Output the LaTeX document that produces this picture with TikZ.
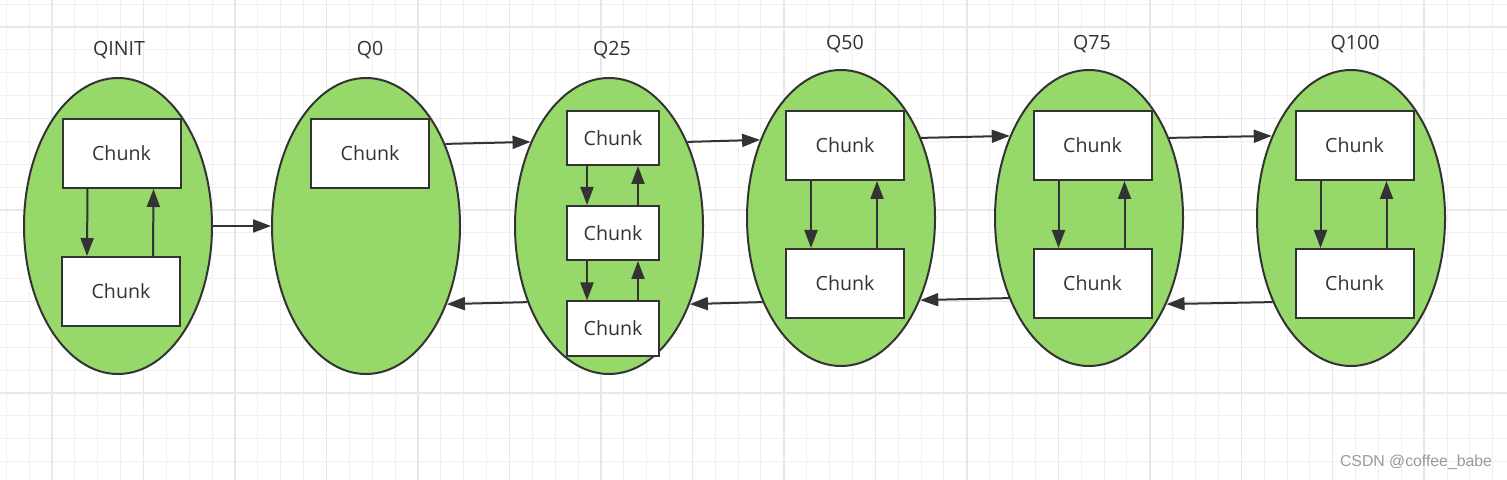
\documentclass[tikz,border=0pt]{standalone}
\usepackage{fontspec}
\setmainfont{Open Sans}
\newfontfamily\wmfont{Liberation Sans}
\usetikzlibrary{shapes.geometric,arrows.meta,calc}
\definecolor{lc}{HTML}{333333}
\definecolor{gfill}{HTML}{97D86A}
\definecolor{gminor}{HTML}{F0F0F0}
\definecolor{gmajor}{HTML}{E8E8E8}
\definecolor{wm}{HTML}{999999}
\begin{document}
\begin{tikzpicture}[x=0.5pt,y=-0.5pt,
  queue/.style={ellipse,draw=lc,line width=1pt,fill=gfill,minimum width=94pt,minimum height=148pt,inner sep=0pt},
  chunk/.style={rectangle,draw=lc,line width=1pt,fill=white,minimum width=59pt,minimum height=34.5pt,inner sep=0pt,font=\fontsize{9.8}{11}\selectfont,text=lc},
  smallchunk/.style={chunk,minimum width=46pt,minimum height=27pt},
  qlabel/.style={font=\fontsize{9.8}{11}\selectfont,text=lc},
  arr/.style={draw=lc,line width=1pt,-{Triangle[length=9pt,width=6.5pt]}},
  gridminor/.style={draw=gminor,line width=0.5pt},
  gridmajor/.style={draw=gmajor,line width=0.75pt}
]
\useasboundingbox (0,0) rectangle (1507,480);
\fill[white] (0,0) rectangle (1507,480);
\begin{scope}
\clip (0,0) rectangle (1507,480);
\foreach \i in {-2,...,63}{\draw[gridminor] ({52+\i*22.87},0) -- ({52+\i*22.87},480);}
\foreach \j in {-1,...,19}{\draw[gridminor] (0,{27+\j*22.87}) -- (1507,{27+\j*22.87});}
\foreach \i in {0,4,...,60}{\draw[gridmajor] ({52+\i*22.87},0) -- ({52+\i*22.87},480);}
\foreach \j in {0,4,...,16}{\draw[gridmajor] (0,{27+\j*22.87}) -- (1507,{27+\j*22.87});}
\end{scope}

% queues
\node[queue] (qinit) at (118,226) {};
\node[queue] (q0) at (366,226) {};
\node[queue] (q25) at (609,226) {};
\node[queue] (q50) at (841,218) {};
\node[queue] (q75) at (1089,218) {};
\node[queue] (q100) at (1351,218) {};

% labels
\node[qlabel] (lqinit) at (119,50) {QINIT};
\node[qlabel] (lq0) at (370,50) {Q0};
\node[qlabel] (lq25) at (612,50) {Q25};
\node[qlabel] (lq50) at (845,44) {Q50};
\node[qlabel] (lq75) at (1092,44) {Q75};
\node[qlabel] (lq100) at (1355,44) {Q100};

% chunks
\node[chunk] (i1) at (121.5,153.5) {Chunk};
\node[chunk] (i2) at (121,291.5) {Chunk};
\node[chunk] (z1) at (370,153.5) {Chunk};
\node[smallchunk] (a1) at (613,138) {Chunk};
\node[smallchunk] (a2) at (613,233) {Chunk};
\node[smallchunk] (a3) at (613,328.5) {Chunk};
\node[chunk] (b1) at (845,145.5) {Chunk};
\node[chunk] (b2) at (845,283.5) {Chunk};
\node[chunk] (c1) at (1092.5,145.5) {Chunk};
\node[chunk] (c2) at (1092.5,283.5) {Chunk};
\node[chunk] (d1) at (1354.5,145.5) {Chunk};
\node[chunk] (d2) at (1354.5,283.5) {Chunk};

% inner arrows
\draw[arr] ([xshift=-17pt]i1.south) -- ([xshift=-17pt]i2.north);
\draw[arr] ([xshift=16pt]i2.north) -- ([xshift=16pt]i1.south);
\draw[arr] ([xshift=-13pt]a1.south) -- ([xshift=-13pt]a2.north);
\draw[arr] ([xshift=12.5pt]a2.north) -- ([xshift=12.5pt]a1.south);
\draw[arr] ([xshift=-13pt]a2.south) -- ([xshift=-13pt]a3.north);
\draw[arr] ([xshift=12.5pt]a3.north) -- ([xshift=12.5pt]a2.south);
\draw[arr] ([xshift=-17pt]b1.south) -- ([xshift=-17pt]b2.north);
\draw[arr] ([xshift=16pt]b2.north) -- ([xshift=16pt]b1.south);
\draw[arr] ([xshift=-17pt]c1.south) -- ([xshift=-17pt]c2.north);
\draw[arr] ([xshift=16pt]c2.north) -- ([xshift=16pt]c1.south);
\draw[arr] ([xshift=-17pt]d1.south) -- ([xshift=-17pt]d2.north);
\draw[arr] ([xshift=16pt]d2.north) -- ([xshift=16pt]d1.south);

% queue-to-queue arrows
\draw[arr] (qinit.east) -- (q0.west);
\draw[arr] (q0.46.3) -- (q25.133.7);
\draw[arr] (q25.47.9) -- (q50.136.2);
\draw[arr] (q50.45.3) -- (q75.134.7);
\draw[arr] (q75.45.8) -- (q100.134.2);
\draw[arr] (q25.223.3) -- (q0.316.7);
\draw[arr] (q50.227.9) -- (q25.316.2);
\draw[arr] (q75.225.3) -- (q50.314.7);
\draw[arr] (q100.227.9) -- (q75.312.1);

% watermark
\node[font=\wmfont\fontsize{7.9}{9}\selectfont,text=wm] (wmark) at (1416,462) {CSDN @coffee\_babe};
\end{tikzpicture}
\end{document}
